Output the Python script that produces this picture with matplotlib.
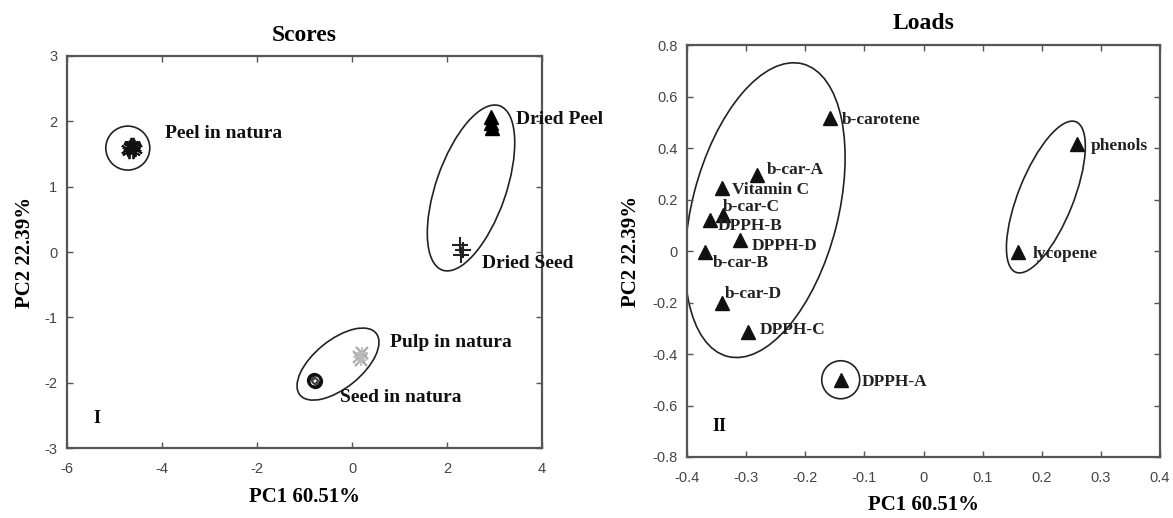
import matplotlib
matplotlib.use('Agg')
import matplotlib.pyplot as plt
from matplotlib.patches import Ellipse
from matplotlib.transforms import ScaledTranslation

plt.rcParams['axes.unicode_minus'] = False

# Scores (panel I)
peel_nat_x = [-4.72, -4.66, -4.60, -4.68, -4.56, -4.62, -4.70, -4.58]
peel_nat_y = [1.58, 1.63, 1.55, 1.61, 1.58, 1.64, 1.54, 1.60]
dried_peel_x = [2.93, 2.93, 2.94]
dried_peel_y = [2.07, 1.98, 1.90]
dried_seed_x = [2.28, 2.33, 2.30]
dried_seed_y = [0.10, 0.03, -0.04]
pulp_nat_x = [0.15, 0.22, 0.18]
pulp_nat_y = [-1.60, -1.55, -1.66]
seed_nat_x = [-0.80, -0.78]
seed_nat_y = [-1.96, -1.97]

score_labels = ['Peel in natura', 'Dried Peel', 'Dried Seed', 'Pulp in natura', 'Seed in natura']
score_label_x = [-3.94, 3.45, 2.74, 0.80, -0.25]
score_label_y = [1.82, 2.02, -0.17, -1.39, -2.23]

# Loads (panel II)
load_names = ['b-carotene', 'b-car-A', 'Vitamin C', 'b-car-C', 'DPPH-B', 'DPPH-D',
              'b-car-B', 'b-car-D', 'DPPH-C', 'DPPH-A', 'phenols', 'lycopene']
load_x = [-0.158, -0.282, -0.341, -0.339, -0.361, -0.310,
          -0.370, -0.341, -0.297, -0.140, 0.260, 0.160]
load_y = [0.516, 0.295, 0.245, 0.140, 0.120, 0.043,
          -0.004, -0.200, -0.315, -0.500, 0.415, -0.004]
# label offsets from the marker, in points
load_dx = [8.6, 7.2, 7.2, 0.0, 5.8, 8.6, 5.8, 2.2, 8.6, 15.0, 9.4, 10.8]
load_dy = [-1.4, 3.6, -1.4, 5.8, -4.3, -4.3, -7.9, 5.8, 1.4, -1.4, -1.4, -1.4]

gray = '#555555'
serif = ['Liberation Serif', 'DejaVu Serif']
sans = ['Liberation Sans', 'DejaVu Sans']

fig = plt.figure(figsize=(11.73, 5.18), dpi=100)
ax1 = fig.add_axes([0.0571, 0.135, 0.405, 0.757])
ax2 = fig.add_axes([0.5857, 0.1178, 0.4032, 0.795])


def ring(ax, cx, cy, a_px, b_px, angle):
    # ellipse sized in pixels, centred on a data point
    tr = fig.dpi_scale_trans + ScaledTranslation(cx, cy, ax.transData)
    e = Ellipse((0, 0), 2 * a_px / 100, 2 * b_px / 100, angle=angle,
                transform=tr, fill=False, ec='#222222', lw=1.2)
    ax.add_patch(e)


def style(ax):
    for s in ax.spines.values():
        s.set_color(gray)
        s.set_linewidth(1.6)
    ax.tick_params(direction='in', top=True, right=True, length=4, width=1,
                   color=gray, labelcolor='#444444', labelsize=10.5)
    ax.tick_params(axis='x', pad=10)
    ax.tick_params(axis='y', pad=7)
    for t in ax.get_xticklabels() + ax.get_yticklabels():
        t.set_family(sans)


# panel I
ax1.plot(peel_nat_x, peel_nat_y, ls='none', marker=(6, 2, 0), ms=11, mew=1.3, color='#111111')
ax1.plot(dried_peel_x, dried_peel_y, ls='none', marker='^', ms=10, color='black')
ax1.plot(dried_seed_x, dried_seed_y, ls='none', marker='+', ms=11, mew=1.5, color='#222222')
ax1.plot(pulp_nat_x, pulp_nat_y, ls='none', marker='x', ms=9, mew=1.6, color='#aaaaaa')
ax1.plot(pulp_nat_x, pulp_nat_y, ls='none', marker='+', ms=8, mew=1.2, color='#bbbbbb')
ax1.plot(seed_nat_x, seed_nat_y, ls='none', marker='o', ms=9, mew=2, mfc='none', color='#111111')
ax1.plot(seed_nat_x, seed_nat_y, ls='none', marker='o', ms=4, mew=1, mfc='none', color='#333333')

for name, x, y in zip(score_labels, score_label_x, score_label_y):
    ax1.text(x, y, name, family=serif, fontweight='bold', fontsize=14,
             va='center', ha='left', color='#111111')
ax1.text(-5.45, -2.54, 'I', family=serif, fontweight='bold', fontsize=13, va='center')

ring(ax1, -4.72, 1.59, 22, 22, 0)
ring(ax1, 2.505, 0.98, 87, 35, 70.8)
ring(ax1, -0.295, -1.715, 49, 24, 39)

ax1.set_xlim(-6, 4)
ax1.set_ylim(-3, 3)
ax1.set_xticks(range(-6, 5, 2))
ax1.set_yticks(range(-3, 4))
ax1.set_title('Scores', family=serif, fontweight='bold', fontsize=17, pad=11)
ax1.set_xlabel('PC1 60.51%', family=serif, fontweight='bold', fontsize=15, labelpad=8)
ax1.set_ylabel('PC2 22.39%', family=serif, fontweight='bold', fontsize=15, labelpad=7)
style(ax1)

# panel II
ax2.plot(load_x, load_y, ls='none', marker='^', ms=10.5, color='#111111')
for name, x, y, dx, dy in zip(load_names, load_x, load_y, load_dx, load_dy):
    ax2.annotate(name, (x, y), xytext=(dx, dy), textcoords='offset points',
                 family=serif, fontweight='bold', fontsize=12.5, va='center',
                 ha='left', color='#222222')
ax2.text(-0.357, -0.68, 'II', family=serif, fontweight='bold', fontsize=13, va='center')

ring(ax2, -0.268, 0.159, 151, 73, 75.6)
ring(ax2, -0.14, -0.50, 19, 19, 0)
ring(ax2, 0.207, 0.21, 81, 27.5, 68.2)

ax2.set_xlim(-0.4, 0.4)
ax2.set_ylim(-0.8, 0.8)
xt = [-0.4, -0.3, -0.2, -0.1, 0, 0.1, 0.2, 0.3, 0.4]
yt = [-0.8, -0.6, -0.4, -0.2, 0, 0.2, 0.4, 0.6, 0.8]
ax2.set_xticks(xt)
ax2.set_xticklabels(['-0.4', '-0.3', '-0.2', '-0.1', '0', '0.1', '0.2', '0.3', '0.4'])
ax2.set_yticks(yt)
ax2.set_yticklabels(['-0.8', '-0.6', '-0.4', '-0.2', '0', '0.2', '0.4', '0.6', '0.8'])
ax2.set_title('Loads', family=serif, fontweight='bold', fontsize=17, pad=12)
ax2.set_xlabel('PC1 60.51%', family=serif, fontweight='bold', fontsize=15, labelpad=7)
ax2.set_ylabel('PC2 22.39%', family=serif, fontweight='bold', fontsize=15, labelpad=8)
style(ax2)

fig.savefig('out.png', dpi=100, facecolor='white')
